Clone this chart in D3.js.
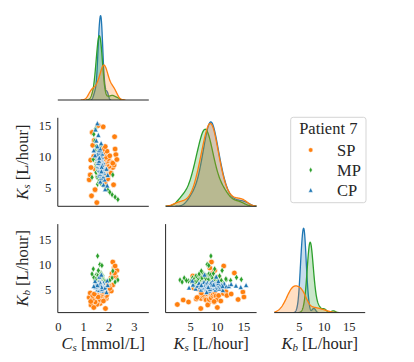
<!DOCTYPE html>
<html><head><meta charset="utf-8">
<script src="https://cdn.jsdelivr.net/npm/d3@7"></script>
<style>
body{margin:0;background:#fff}
svg text{font-family:'Liberation Serif','DejaVu Serif',serif;fill:#262626}
</style>
</head><body>
<svg id="c" width="414" height="362" font-family="Liberation Serif, DejaVu Serif, serif"></svg>
<script>
// ---------------- data ----------------
const groups = ["SP", "MP", "CP"];
const legendTitle = "Patient 7";
const colors = ["#ff7f0e", "#2ca02c", "#1f77b4"];
const csTicks = [0, 1, 2, 3];
const ksTicks = [5, 10, 15];
const kbTicks = [5, 10, 15];
// samples: [Cs, Ks, Kb]
const SP = [[1.85,5.6,5.4],[1.64,6.05,3.2],[1.95,6.35,5.2],[1.71,6.6,5.7],[1.55,6.75,3.6],[1.89,6.95,3.3],[1.79,7.1,5.5],[2.05,7.2,5.2],[1.69,7.35,3.7],[1.81,7.45,6.4],[1.59,7.55,3.9],[1.97,7.65,5.4],[1.75,7.75,3.2],[1.86,7.8,5.8],[1.46,7.9,3.0],[1.92,8.0,5.1],[1.72,8.05,6.0],[1.82,8.15,4.2],[2.15,8.2,6.0],[1.65,8.3,2.3],[1.78,8.35,4.6],[2.01,8.4,5.9],[1.62,8.5,3.1],[1.87,8.55,5.2],[1.74,8.6,4.3],[1.80,8.65,5.9],[1.93,8.7,4.2],[1.51,8.8,4.2],[1.83,8.85,3.4],[1.70,8.9,6.4],[2.09,9.0,4.8],[1.77,9.05,5.2],[1.90,9.15,3.9],[1.66,9.2,4.3],[1.96,9.3,6.1],[1.57,9.4,2.6],[1.82,9.45,5.1],[1.79,9.55,4.4],[1.98,9.65,5.9],[1.73,9.75,3.8],[1.88,9.85,6.1],[1.63,10.0,3.1],[2.03,10.1,5.3],[1.69,10.25,3.9],[1.81,10.45,5.3],[1.78,10.65,2.8],[1.92,10.85,6.0],[1.75,11.15,4.3],[1.85,11.6,4.7],
  [1.52,2.5,2.1],[1.31,3.6,3.0],[1.45,4.6,2.6],[1.22,6.2,3.5],[1.86,6.9,1.3],[1.29,8.2,2.0],[1.34,13.9,3.1],[1.77,14.8,4.6],[1.57,15.0,3.6],[2.12,9.0,8.3],[2.20,8.6,9.4],[2.27,10.3,7.6],[2.15,8.9,10.6],[2.31,9.5,8.9],[2.24,11.2,9.8],[2.08,7.3,7.4],[1.40,10.0,1.5],[1.26,7.0,4.4],
  [1.36,11.8,3.9],[1.28,9.4,2.7],[1.42,12.6,4.2],[2.18,5.4,7.8],[2.22,13.2,8.4]];
const MP = [[1.95,4.6,6.8],[1.84,5.05,6.7],[1.76,5.35,7.4],[1.70,5.6,5.9],[1.65,5.8,7.1],[1.55,5.49,6.9],[1.67,5.69,7.2],[1.60,5.82,6.6],[1.76,6.01,7.8],[1.64,6.14,6.8],[1.72,6.27,7.5],[1.58,6.4,7.0],[1.67,6.53,7.3],[1.53,6.66,6.3],[1.73,6.79,7.7],[1.60,6.86,7.4],[1.77,6.99,7.0],[1.64,7.05,7.7],[1.56,7.18,7.2],[1.69,7.25,8.4],[1.49,7.38,6.7],[1.69,7.44,7.5],[1.61,7.57,7.1],[1.58,7.64,8.1],[1.72,7.7,7.3],[1.60,7.77,7.6],[1.64,7.83,6.9],[1.53,7.96,7.8],[1.75,8.03,7.4],[1.55,8.16,6.4],[1.66,8.22,7.7],[1.50,8.35,7.2],[1.69,8.42,8.2],[1.60,8.55,7.5],[1.67,8.61,7.0],[1.49,8.74,8.0],[1.64,8.87,6.7],[1.52,9.0,7.6],[1.69,9.13,7.3],[1.56,9.26,8.3],[1.60,9.39,6.8],[1.50,9.59,7.1],[1.70,9.72,7.5],[1.53,9.91,6.3],[1.66,10.17,6.9],[1.56,10.43,7.8],[1.61,10.76,6.9],[1.49,11.15,6.3],[1.66,11.73,7.1],
  [1.56,7.77,7.9],[1.70,7.64,6.8],[1.61,7.9,7.2],[1.66,7.51,7.6],[1.58,8.29,7.0],[1.62,7.12,7.4],
  [2.35,3.0,7.0],[2.24,3.4,6.6],[2.12,3.8,7.4],[2.03,4.2,6.9],[1.50,11.6,7.2],[1.44,12.5,6.9],[1.40,13.6,7.5],[1.47,14.5,7.1],[1.55,8.8,11.8],[1.64,8.1,10.1],[1.38,9.5,9.2],[1.72,8.4,9.9],[1.58,10.9,8.9],[1.33,6.6,8.2],[2.15,7.0,8.8]];
const CP = [[1.78,5.44,6.1],[1.66,5.94,5.3],[1.82,6.28,5.9],[1.69,6.56,6.4],[1.77,6.78,5.6],[1.61,6.95,5.1],[1.71,7.12,6.2],[1.65,7.23,5.8],[1.81,7.4,5.5],[1.68,7.51,6.6],[1.77,7.62,5.7],[1.64,7.74,6.0],[1.72,7.85,5.2],[1.61,7.9,6.3],[1.73,8.02,5.4],[1.65,8.13,5.9],[1.77,8.18,6.5],[1.67,8.3,5.6],[1.61,8.35,6.1],[1.71,8.46,4.9],[1.57,8.52,5.8],[1.73,8.58,6.2],[1.67,8.69,5.3],[1.63,8.74,6.0],[1.75,8.8,5.7],[1.65,8.86,6.4],[1.69,8.91,5.5],[1.59,9.02,5.9],[1.77,9.08,5.2],[1.61,9.14,6.7],[1.69,9.25,5.6],[1.57,9.3,6.1],[1.72,9.42,5.4],[1.64,9.47,5.8],[1.70,9.58,6.3],[1.54,9.7,5.1],[1.67,9.75,6.0],[1.59,9.86,5.7],[1.72,9.98,6.2],[1.61,10.09,5.5],[1.65,10.2,6.4],[1.56,10.37,5.3],[1.73,10.48,5.9],[1.59,10.65,5.6],[1.68,10.87,6.1],[1.61,11.04,5.0],[1.65,11.32,6.3],[1.54,11.66,5.7],[1.69,12.16,5.8],
  [1.65,8.86,6.5],[1.69,8.74,5.4],[1.57,8.97,6.0],[1.73,8.63,5.2],[1.61,9.3,6.1],[1.71,8.3,5.6],
  [1.85,4.7,5.5],[1.93,5.3,6.9],[1.50,12.6,6.2],[1.58,13.5,5.9],[1.47,14.4,5.6],[1.54,15.4,6.0],[1.62,9.8,7.7],[1.70,7.6,8.1],[1.45,10.2,6.8],[1.90,8.0,4.6],[1.40,11.0,5.8],[1.95,7.0,6.0]];
const samples = [SP, MP, CP];

// ---------------- layout ----------------
const svg = d3.select("#c");
const colX = [57.8, 165.6, 274.2], W = 91;
const rowY = [11.5, 117.8, 224.1], H = 88.5;
const xDomains = [[-0.02, 3.57], [0.3, 17.37], [-0.02, 18.18]];
const yDomains = [null, [1.9, 16.27], [0.48, 18.18]];
const tickSets = [csTicks, ksTicks, kbTicks];
const xs = xDomains.map((d, i) => d3.scaleLinear().domain(d).range([colX[i], colX[i] + W]));
const ys = yDomains.map((d, i) => d ? d3.scaleLinear().domain(d).range([rowY[i] + H, rowY[i]]) : null);
const spine = "#262626";

// ---------------- KDE (Scott bandwidth, cut=3, common norm) ----------------
const N = d3.sum(samples, s => s.length);
function kde(vals) {
  const n = vals.length;
  const sd = d3.deviation(vals);
  const bw = sd * Math.pow(n, -0.2);
  const lo = d3.min(vals) - 3 * bw, hi = d3.max(vals) + 3 * bw;
  const pts = [];
  for (let k = 0; k < 200; k++) {
    const x = lo + (hi - lo) * k / 199;
    let s = 0;
    for (const v of vals) { const z = (x - v) / bw; s += Math.exp(-0.5 * z * z); }
    pts.push([x, s / (n * bw * Math.sqrt(2 * Math.PI)) * (n / N)]);
  }
  return pts;
}

// ---------------- diagonal panels ----------------
for (let i = 0; i < 3; i++) {
  const curves = samples.map(s => kde(s.map(r => r[i])));
  const ymax = d3.max(curves, c => d3.max(c, p => p[1])) * 1.05;
  const y = d3.scaleLinear().domain([0, ymax]).range([rowY[i] + H, rowY[i]]);
  const clipId = "clipd" + i;
  svg.append("clipPath").attr("id", clipId).append("rect")
    .attr("x", colX[i]).attr("y", rowY[i] - 2).attr("width", W).attr("height", H + 2);
  const g = svg.append("g").attr("clip-path", `url(#${clipId})`);
  const area = d3.area().x(p => xs[i](p[0])).y0(y(0)).y1(p => y(p[1]));
  const line = d3.line().x(p => xs[i](p[0])).y(p => y(p[1]));
  for (let j = 2; j >= 0; j--) {
    g.append("path").attr("d", area(curves[j])).attr("fill", colors[j]).attr("fill-opacity", 0.25);
    g.append("path").attr("d", line(curves[j])).attr("fill", "none").attr("stroke", colors[j]).attr("stroke-width", 1.3);
  }
  svg.append("line").attr("x1", colX[i]).attr("x2", colX[i] + W)
    .attr("y1", rowY[i] + H).attr("y2", rowY[i] + H).attr("stroke", spine).attr("stroke-width", 1);
}

// ---------------- scatter panels ----------------
const markers = [
  "M0,-2.8A2.8,2.8 0 1,1 0,2.8A2.8,2.8 0 1,1 0,-2.8Z",
  "M0,-3.3L2,0L0,3.3L-2,0Z",
  "M0,-2.6L2.6,2.6L-2.6,2.6Z"
];
const legendMarkers = [
  "M0,-2.2A2.2,2.2 0 1,1 0,2.2A2.2,2.2 0 1,1 0,-2.2Z",
  "M0,-2.7L1.6,0L0,2.7L-1.6,0Z",
  "M0,-2.2L2.2,2.2L-2.2,2.2Z"
];
const pairs = [[1, 0], [2, 0], [2, 1]]; // [row (y variable), col (x variable)]
for (const [r, c] of pairs) {
  const g = svg.append("g");
  for (let j = 0; j < 3; j++) {
    g.selectAll(null).data(samples[j]).join("path")
      .attr("d", markers[j])
      .attr("transform", d => `translate(${xs[c](d[c])},${ys[r](d[r])})`)
      .attr("fill", colors[j]).attr("stroke", "#fff").attr("stroke-width", 0.6);
  }
  svg.append("line").attr("x1", colX[c]).attr("x2", colX[c] + W)
    .attr("y1", rowY[r] + H).attr("y2", rowY[r] + H).attr("stroke", spine);
  svg.append("line").attr("x1", colX[c]).attr("x2", colX[c])
    .attr("y1", rowY[r]).attr("y2", rowY[r] + H).attr("stroke", spine);
}

// ---------------- ticks ----------------
for (let r = 1; r < 3; r++) {
  svg.selectAll(null).data(tickSets[r]).join("text")
    .attr("x", colX[0] - 6.5).attr("y", d => ys[r](d) + 4.3)
    .attr("text-anchor", "end").attr("font-size", 12.5).text(d => d);
}
for (let c = 0; c < 3; c++) {
  svg.selectAll(null).data(tickSets[c]).join("text")
    .attr("x", d => xs[c](d)).attr("y", 331)
    .attr("text-anchor", "middle").attr("font-size", 12.5).text(d => d);
}

// ---------------- axis labels ----------------
const labelParts = [["C", "s", " [mmol/L]"], ["K", "s", " [L/hour]"], ["K", "b", " [L/hour]"]];
function label(sel, p) {
  sel.append("tspan").attr("font-style", "italic").text(p[0]);
  sel.append("tspan").attr("font-style", "italic").attr("font-size", 11).attr("dy", 2.6).text(p[1]);
  sel.append("tspan").attr("dy", -2.6).text(p[2]);
}
for (let c = 0; c < 3; c++) {
  const t = svg.append("text").attr("x", colX[c] + W / 2).attr("y", 348.5)
    .attr("text-anchor", "middle").attr("font-size", 16.5);
  label(t, labelParts[c]);
}
for (let r = 1; r < 3; r++) {
  const cy = rowY[r] + H / 2;
  const t = svg.append("text").attr("transform", `translate(27.5,${cy}) rotate(-90)`)
    .attr("text-anchor", "middle").attr("font-size", 16.5);
  label(t, labelParts[r]);
}

// ---------------- legend ----------------
const lg = svg.append("g");
lg.append("rect").attr("x", 290.7).attr("y", 117.3).attr("width", 75.3).attr("height", 85.4)
  .attr("rx", 2.5).attr("fill", "#fff").attr("fill-opacity", 0.8).attr("stroke", "#d0d0d0").attr("stroke-width", 0.9);
lg.append("text").attr("x", 328.3).attr("y", 133.8).attr("text-anchor", "middle")
  .attr("font-size", 16.5).text(legendTitle);
groups.forEach((gname, j) => {
  const yy = 150 + j * 20;
  lg.append("path").attr("d", legendMarkers[j]).attr("transform", `translate(310.7,${yy})`)
    .attr("fill", colors[j]).attr("stroke", "#fff").attr("stroke-width", 0.4);
  lg.append("text").attr("x", 337).attr("y", yy + 5.5).attr("font-size", 16.5).text(gname);
});
</script>
</body></html>
